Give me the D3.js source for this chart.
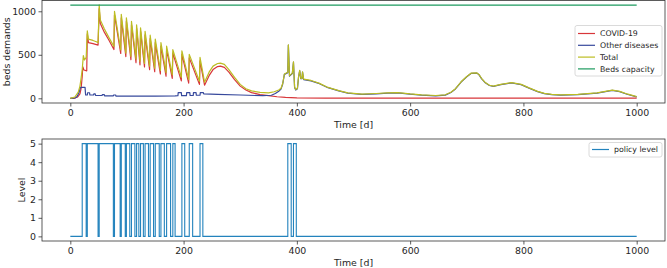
<!DOCTYPE html>
<html>
<head>
<meta charset="utf-8">
<script src="https://cdn.jsdelivr.net/npm/d3@7"></script>
<style>
  body { margin: 0; background: #fff; }
  svg { display: block; font-family: "DejaVu Sans", sans-serif; }
</style>
</head>
<body>
<div id="chart"></div>
<script>
// day, beds
const covidBeds = [[0,0],[8,3],[13,15],[17,50],[19,110],[21,250],[22,362],[24,325],[29,315],[30,740],[32,640],[40,628],[49,612],
  [51,1030],[53,860],[60,760],[68,670],[77,560],[78,960],[89,515],[90,925],[98,480],[99,885],[107,445],[108,845],
  [116,410],[117,805],[123,385],[124,770],[131,360],[132,730],[140,330],[141,685],[149,305],[150,640],[159,280],[160,600],
  [169,255],[170,560],[180,230],[181,520],[196,200],[197,505],[209,175],[210,465],[228,160],[229,430],[237,150],
  [245,260],[252,330],[260,365],[265,370],[272,355],[280,300],[290,215],[300,140],[310,95],[320,65],[335,42],
  [350,30],[365,18],[380,10],[400,5],[450,3],[1000,2]];

const otherBeds = [[0,0],[9,5],[12,20],[15,60],[18,126],[26,126],[27,38],[30,38],[30.5,64],[34,64],[34.5,38],[41,38],
  [41.5,50],[44,50],[44.5,32],[56,32],[56.5,42],[60,42],[60.5,28],[76,28],[76.5,38],[80,38],[80.5,25],[150,25],
  [185,28],[190,30],[190.5,65],[196,65],[196.5,30],[205,30],[205.5,65],[211,65],[211.5,32],[217,32],[217.5,65],
  [222,65],[222.5,35],[229,35],[229.5,65],[235,65],[235.5,52],[260,46],[300,38],[340,30],[355,35],[362,55],
  [368,80],[372,105],[375,165],[378,275],[384,295],[385,610],[387,255],[392,285],[394,415],[396,125],[398,95],
  [401,110],[403,245],[405,315],[407,225],[409,225],[410,300],[412,215],[425,200],[440,168],[455,122],[474,85],
  [490,60],[515,45],[540,52],[560,59],[578,62],[600,47],[620,37],[645,29],[662,37],[672,67],[680,107],[690,187],
  [700,247],[708,287],[718,289],[722,267],[726,227],[732,182],[740,147],[747,137],[760,157],[779,177],[796,157],
  [810,117],[825,77],[837,54],[850,42],[866,37],[896,42],[930,60],[957,92],[970,77],[983,47],[1000,17]];

const totalBeds = [[0,0],[8,15],[14,70],[17,140],[19,230],[21,330],[23,490],[25,440],[28,470],[30,775],[32,680],[40,665],
  [46,650],[49,640],[51,1075],[53,900],[60,800],[68,700],[77,595],[78,1000],[89,555],[90,965],[98,520],[99,925],
  [107,480],[108,885],[116,450],[117,845],[123,425],[124,810],[131,400],[132,770],[140,370],[141,725],[149,345],
  [150,680],[159,320],[160,640],[169,295],[170,600],[180,270],[181,560],[196,240],[197,545],[209,215],[210,505],
  [228,195],[229,470],[237,185],[245,300],[252,370],[260,400],[265,405],[272,390],[280,330],[290,240],[300,160],
  [310,110],[320,85],[335,68],[350,62],[360,75],[368,95],[372,115],[375,170],[378,280],[384,300],[385,615],
  [387,260],[392,290],[394,420],[396,130],[398,100],[401,115],[403,250],[405,320],[407,230],[409,230],[410,305],
  [412,220],[425,205],[440,172],[455,125],[474,88],[490,63],[515,48],[540,55],[560,62],[578,65],[600,50],[620,40],
  [645,32],[662,40],[672,70],[680,110],[690,190],[700,250],[708,290],[718,292],[722,270],[726,230],[732,185],
  [740,150],[747,140],[760,160],[779,180],[796,160],[810,120],[825,80],[837,57],[850,45],[866,40],[896,45],
  [930,63],[957,95],[970,80],[983,50],[1000,20]];

const bedsCapacity = [[0,1070],[1000,1070]];

// day, level (held until next change)
const policyLevel = [[0,0],[21,5],[28,0],[30,5],[49,0],[51,5],[76,0],[78,5],[88,0],[90,5],[97,0],[99,5],[105,0],[108,5],
  [114,0],[117,5],[121,0],[124,5],[129,0],[132,5],[138,0],[141,5],[147,0],[150,5],[157,0],[160,5],[166,0],[170,5],
  [177,0],[181,5],[185,0],[197,5],[202,0],[210,5],[216,0],[229,5],[234,0],[384,5],[390,0],[394,5],[399,0],[1000,0]];

const dayTicks = [0, 200, 400, 600, 800, 1000];
const bedTicks = [0, 500, 1000];
const levelTicks = [0, 1, 2, 3, 4, 5];

const topSeries = [
  { name: "COVID-19", data: covidBeds, color: "#d8363a" },
  { name: "Other diseases", data: otherBeds, color: "#37499c" },
  { name: "Total", data: totalBeds, color: "#bcbd22" },
  { name: "Beds capacity", data: bedsCapacity, color: "#1c9a5e" }
];

const W = 667, H = 268;
const frameL = 42, frameR = 665;
const topPanel = { top: 0.5, bottom: 103 };
const botPanel = { top: 139, bottom: 241 };
const axisColor = "#333";
const textColor = "#262626";

const svg = d3.select("#chart").append("svg")
  .attr("width", W)
  .attr("height", H);

const x = d3.scaleLinear().domain([-50, 1050]).range([frameL, frameR]);
const yBeds = d3.scaleLinear().domain([-54, 1124]).range([topPanel.bottom, topPanel.top]);
const yLevel = d3.scaleLinear().domain([-0.25, 5.25]).range([botPanel.bottom, botPanel.top]);

function styleAxis(g) {
  g.select(".domain").remove();
  g.selectAll(".tick line").attr("stroke", axisColor).attr("stroke-width", 0.8);
  g.selectAll(".tick text").attr("fill", textColor).attr("font-size", "9.4px")
    .attr("font-family", "DejaVu Sans, sans-serif");
}

function drawPanel(panel, y, yTicks, yLabel, yLabelX) {
  // x axis
  svg.append("g")
    .attr("transform", `translate(0,${panel.bottom})`)
    .call(d3.axisBottom(x).tickValues(dayTicks).tickFormat(d3.format("d")).tickSize(3.5).tickPadding(2.5))
    .call(styleAxis);

  // y axis
  svg.append("g")
    .attr("transform", `translate(${frameL},0)`)
    .call(d3.axisLeft(y).tickValues(yTicks).tickFormat(d3.format("d")).tickSize(3.5).tickPadding(2.5))
    .call(styleAxis);

  svg.append("text")
    .attr("x", (frameL + frameR) / 2)
    .attr("y", panel.bottom + 25)
    .attr("text-anchor", "middle")
    .attr("fill", textColor)
    .attr("font-size", "9.4px")
    .text("Time [d]");

  const cy = (panel.top + panel.bottom) / 2;
  svg.append("text")
    .attr("transform", `translate(${yLabelX},${cy}) rotate(-90)`)
    .attr("text-anchor", "middle")
    .attr("fill", textColor)
    .attr("font-size", "9.4px")
    .text(yLabel);
}

drawPanel(topPanel, yBeds, bedTicks, "beds demands", 10);
drawPanel(botPanel, yLevel, levelTicks, "Level", 25);

// lines, top panel
const bedLine = d3.line().x(d => x(d[0])).y(d => yBeds(d[1]));
topSeries.forEach(s => {
  svg.append("path")
    .datum(s.data)
    .attr("fill", "none")
    .attr("stroke", s.color)
    .attr("stroke-width", 1.2)
    .attr("stroke-linejoin", "round")
    .attr("d", bedLine);
});

// policy level
const levelLine = d3.line().x(d => x(d[0])).y(d => yLevel(d[1])).curve(d3.curveStepAfter);
svg.append("path")
  .datum(policyLevel)
  .attr("fill", "none")
  .attr("stroke", "#2383bd")
  .attr("stroke-width", 1.1)
  .attr("d", levelLine);

// frames
[topPanel, botPanel].forEach(p => {
  svg.append("rect")
    .attr("x", frameL)
    .attr("y", p.top)
    .attr("width", frameR - frameL)
    .attr("height", p.bottom - p.top)
    .attr("fill", "none")
    .attr("stroke", axisColor)
    .attr("stroke-width", 0.8);
});

// legend top
const lg = svg.append("g").attr("transform", "translate(575,25.5)");
lg.append("rect")
  .attr("width", 87).attr("height", 50.5)
  .attr("rx", 2)
  .attr("fill", "#fff").attr("fill-opacity", 0.8)
  .attr("stroke", "#d0d0d0").attr("stroke-width", 0.8);
topSeries.forEach((s, i) => {
  const yy = 8 + i * 11.8;
  lg.append("line")
    .attr("x1", 3).attr("x2", 20).attr("y1", yy).attr("y2", yy)
    .attr("stroke", s.color).attr("stroke-width", 1.2);
  lg.append("text")
    .attr("x", 25).attr("y", yy + 2.8)
    .attr("fill", textColor).attr("font-size", "7.8px")
    .text(s.name);
});

// legend bottom
const lb = svg.append("g").attr("transform", "translate(589,142.5)");
lb.append("rect")
  .attr("width", 73).attr("height", 14.5)
  .attr("rx", 2)
  .attr("fill", "#fff").attr("fill-opacity", 0.8)
  .attr("stroke", "#d0d0d0").attr("stroke-width", 0.8);
lb.append("line")
  .attr("x1", 3).attr("x2", 20).attr("y1", 7).attr("y2", 7)
  .attr("stroke", "#2383bd").attr("stroke-width", 1.2);
lb.append("text")
  .attr("x", 25).attr("y", 9.8)
  .attr("fill", textColor).attr("font-size", "7.8px")
  .text("policy level");
</script>
</body>
</html>
